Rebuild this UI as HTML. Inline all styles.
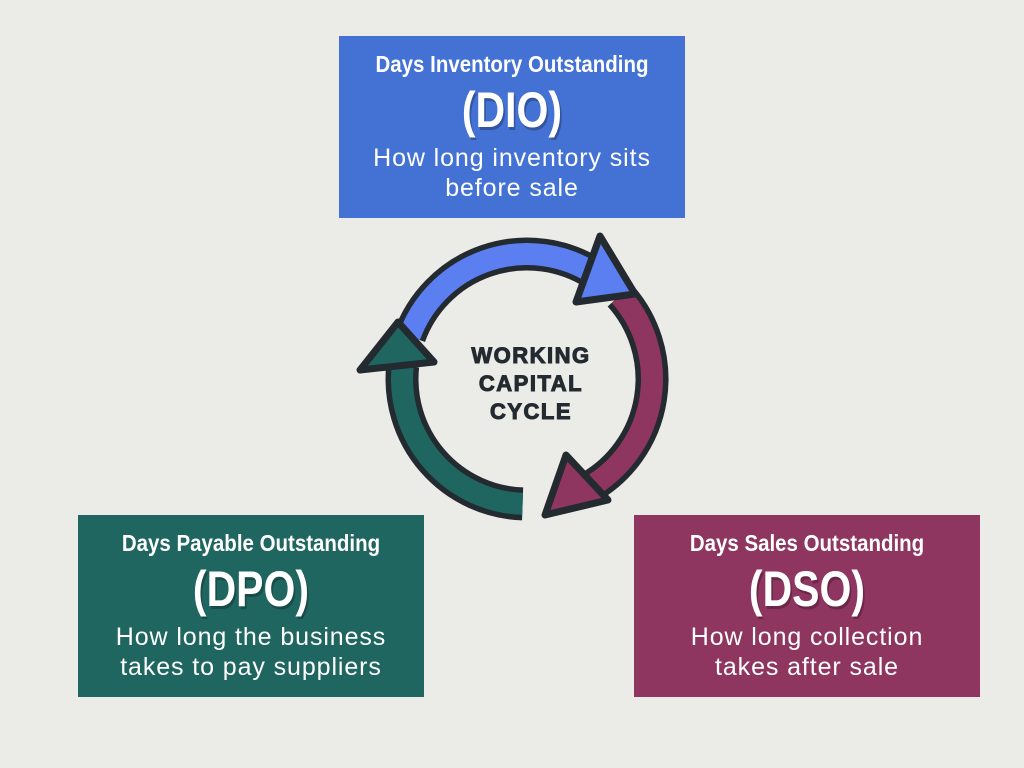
<!DOCTYPE html>
<html><head><meta charset="utf-8"><style>
html,body{margin:0;padding:0}
body{width:1024px;height:768px;position:relative;overflow:hidden;background:#ebebe7;font-family:"Liberation Sans",sans-serif}
.box{position:absolute;width:346px;height:182px;color:#fff;text-align:center}
.t{position:absolute;left:-40px;right:-40px;top:13px;font-weight:bold;font-size:23px;line-height:30px;transform:scaleX(0.89)}
.a{position:absolute;left:-40px;right:-40px;top:46px;font-weight:bold;font-size:50px;line-height:56px;transform:scaleX(0.82);text-shadow:2px 3px 0 rgba(0,0,0,0.25)}
.d{position:absolute;left:-20px;right:-20px;top:107px;font-size:25px;line-height:30px;letter-spacing:0.9px}
</style></head><body>
<div class="box" style="left:339px;top:36px;background:#4472d4">
<div class="t">Days Inventory Outstanding</div><div class="a">(DIO)</div><div class="d">How long inventory sits<br>before sale</div></div>
<div class="box" style="left:78px;top:515px;background:#1f6661">
<div class="t">Days Payable Outstanding</div><div class="a">(DPO)</div><div class="d">How long the business<br>takes to pay suppliers</div></div>
<div class="box" style="left:634px;top:515px;background:#8e3560">
<div class="t">Days Sales Outstanding</div><div class="a">(DSO)</div><div class="d">How long collection<br>takes after sale</div></div>
<svg width="1024" height="768" style="position:absolute;left:0;top:0" xmlns="http://www.w3.org/2000/svg">
<g fill="none" stroke-linecap="butt">
<path d="M409.5,336.3 A125,125 0 0 1 593.2,273.0" stroke="#232a30" stroke-width="33"/>
<path d="M619.9,295.4 A125,125 0 0 1 589.5,487.3" stroke="#232a30" stroke-width="33"/>
<path d="M522.6,503.9 A125,125 0 0 1 402.7,365.9" stroke="#232a30" stroke-width="33"/>
<path d="M409.5,336.3 A125,125 0 0 1 593.2,273.0" stroke="#5b7ef0" stroke-width="22"/>
<path d="M619.9,295.4 A125,125 0 0 1 589.5,487.3" stroke="#8e3560" stroke-width="22"/>
<path d="M522.6,503.9 A125,125 0 0 1 402.7,365.9" stroke="#1f6661" stroke-width="22"/>
</g>
<g stroke="#232a30" stroke-width="7" stroke-linejoin="round">
<polygon points="600,236 635,294 576,302" fill="#5b7ef0"/>
<polygon points="566,455 608,500 545,515" fill="#8e3560"/>
<polygon points="360,370 434,362 398,322" fill="#1f6661"/>
</g>
<g font-family="Liberation Sans, sans-serif" font-weight="bold" font-size="22" letter-spacing="1.5" fill="#232a30" stroke="#232a30" stroke-width="1" text-anchor="middle">
<text x="531" y="363">WORKING</text>
<text x="531" y="391">CAPITAL</text>
<text x="531" y="419">CYCLE</text>
</g>
</svg>
</body></html>
